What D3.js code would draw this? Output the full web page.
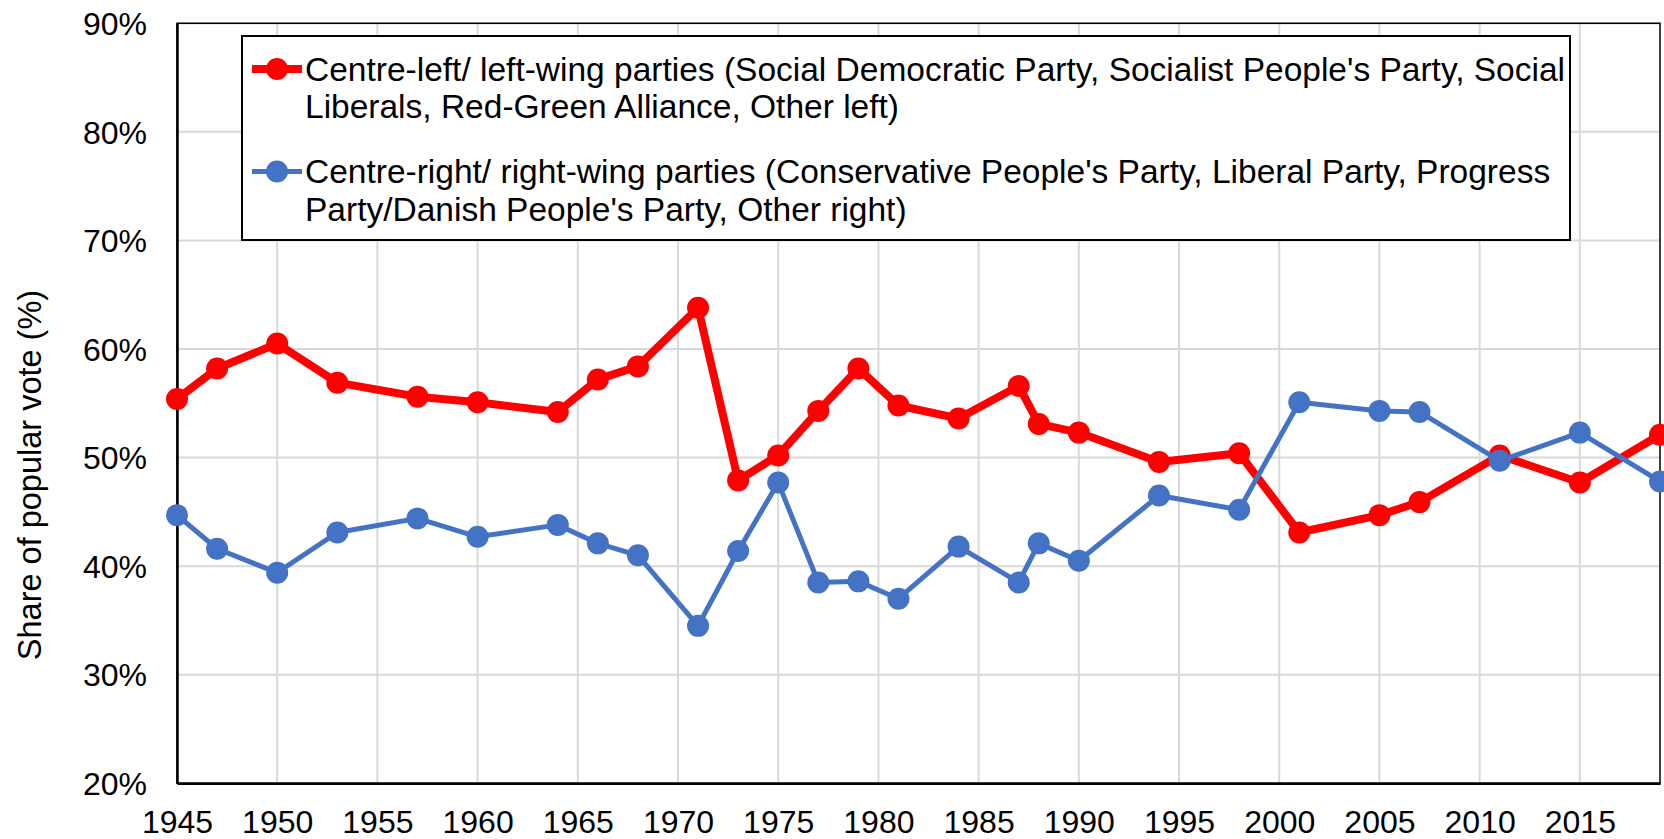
<!DOCTYPE html>
<html>
<head>
<meta charset="utf-8">
<script src="https://cdn.jsdelivr.net/npm/d3@7"></script>
<style>
  body { margin: 0; background: #fff; }
  text { font-family: "Liberation Sans", Arial, sans-serif; fill: #000; }
</style>
</head>
<body>
<div id="chart"></div>
<script>
let years = [1945, 1947, 1950, 1953, 1957, 1960, 1964, 1966, 1968, 1971, 1973, 1975, 1977,
  1979, 1981, 1984, 1987, 1988, 1990, 1994, 1998, 2001, 2005, 2007, 2011, 2015, 2019];

let leftVote = [55.4, 58.2, 60.5, 56.9, 55.6, 55.1, 54.2, 57.2, 58.4, 63.8, 47.9, 50.2, 54.3,
  58.2, 54.8, 53.6, 56.6, 53.1, 52.3, 49.6, 50.4, 43.1, 44.7, 45.9, 50.2, 47.7, 52.1];

let rightVote = [44.7, 41.6, 39.4, 43.1, 44.4, 42.7, 43.8, 42.1, 41.0, 34.5, 41.4, 47.7, 38.5,
  38.6, 37.0, 41.8, 38.5, 42.1, 40.5, 46.5, 45.2, 55.1, 54.3, 54.2, 49.7, 52.3, 47.8];

let xTicks = [1945, 1950, 1955, 1960, 1965, 1970, 1975, 1980, 1985, 1990, 1995, 2000, 2005, 2010, 2015];
let yTicks = [20, 30, 40, 50, 60, 70, 80, 90];

let seriesNames = [
  ["Centre-left/ left-wing parties (Social Democratic Party, Socialist People's Party, Social",
   "Liberals, Red-Green Alliance, Other left)"],
  ["Centre-right/ right-wing parties (Conservative People's Party, Liberal Party, Progress",
   "Party/Danish People's Party, Other right)"]
];
let yTitle = "Share of popular vote (%)";

let series = [
  { name: seriesNames[0], values: leftVote, color: "#ff0000", lineWidth: 8 },
  { name: seriesNames[1], values: rightVote, color: "#4472c4", lineWidth: 5 }
];

let width = 1664;
let height = 839;
let plot = { left: 177, top: 23.3, right: 1660, bottom: 783.3 };

let svg = d3
  .select("#chart")
  .append("svg")
  .attr("width", width)
  .attr("height", height);

let xScale = d3.scaleLinear().domain([1945, 2019]).range([plot.left, plot.right]);
let yScale = d3.scaleLinear().domain([20, 90]).range([plot.bottom, plot.top]);

// gridlines
svg
  .append("g")
  .selectAll("line")
  .data(yTicks)
  .enter()
  .append("line")
  .attr("x1", plot.left)
  .attr("x2", plot.right)
  .attr("y1", (d) => yScale(d))
  .attr("y2", (d) => yScale(d))
  .attr("stroke", "#d9d9d9")
  .attr("stroke-width", 2);

svg
  .append("g")
  .selectAll("line")
  .data(xTicks)
  .enter()
  .append("line")
  .attr("x1", (d) => xScale(d))
  .attr("x2", (d) => xScale(d))
  .attr("y1", plot.top)
  .attr("y2", plot.bottom)
  .attr("stroke", "#d9d9d9")
  .attr("stroke-width", 2);

// plot frame
svg
  .append("rect")
  .attr("x", plot.left)
  .attr("y", plot.top)
  .attr("width", plot.right - plot.left)
  .attr("height", plot.bottom - plot.top)
  .attr("fill", "none")
  .attr("stroke", "#000")
  .attr("stroke-width", 1.5);

// axes
let xAxis = d3.axisBottom(xScale).tickValues(xTicks).tickFormat(d3.format("d")).tickSize(0).tickPadding(27);
let yAxis = d3.axisLeft(yScale).tickValues(yTicks).tickFormat((d) => d + "%").tickSize(0).tickPadding(30);

let gx = svg
  .append("g")
  .attr("transform", "translate(0," + plot.bottom + ")")
  .call(xAxis);
let gy = svg
  .append("g")
  .attr("transform", "translate(" + plot.left + ",0)")
  .call(yAxis);

[gx, gy].forEach(function (g) {
  g.select(".domain").attr("stroke", "#000").attr("stroke-width", 2.5);
  g.selectAll("text")
    .style("font-family", '"Liberation Sans", Arial, sans-serif')
    .style("font-size", "32px")
    .attr("fill", "#000");
});
gy.selectAll("text").attr("dy", "0.35em");

// y axis title
svg
  .append("text")
  .attr("transform", "translate(41,475) rotate(-90)")
  .attr("text-anchor", "middle")
  .style("font-size", "32.5px")
  .text(yTitle);

// lines and markers
let line = d3
  .line()
  .x((d, i) => xScale(years[i]))
  .y((d) => yScale(d));

series.forEach(function (s) {
  svg
    .append("path")
    .datum(s.values)
    .attr("d", line)
    .attr("fill", "none")
    .attr("stroke", s.color)
    .attr("stroke-width", s.lineWidth)
    .attr("stroke-linejoin", "round");

  svg
    .append("g")
    .selectAll("circle")
    .data(s.values)
    .enter()
    .append("circle")
    .attr("cx", (d, i) => xScale(years[i]))
    .attr("cy", (d) => yScale(d))
    .attr("r", 11)
    .attr("fill", s.color);
});

// legend
let legend = svg.append("g").attr("id", "legend");

legend
  .append("rect")
  .attr("x", 242)
  .attr("y", 36)
  .attr("width", 1328)
  .attr("height", 204)
  .attr("fill", "#fff")
  .attr("stroke", "#000")
  .attr("stroke-width", 2);

let legendRows = legend
  .selectAll("g.row")
  .data(series)
  .enter()
  .append("g")
  .attr("class", "row")
  .attr("transform", (d, i) => "translate(0," + (69 + i * 102.5) + ")");

legendRows
  .append("line")
  .attr("x1", 252)
  .attr("x2", 302)
  .attr("stroke", (d) => d.color)
  .attr("stroke-width", (d) => d.lineWidth);

legendRows
  .append("circle")
  .attr("cx", 277)
  .attr("r", 11)
  .attr("fill", (d) => d.color);

legendRows
  .append("text")
  .attr("x", 305)
  .attr("y", 11.5)
  .style("font-size", "33.5px")
  .selectAll("tspan")
  .data((d) => d.name)
  .enter()
  .append("tspan")
  .attr("x", 305)
  .attr("dy", (d, i) => (i === 0 ? 0 : 37.7))
  .text((d) => d);
</script>
</body>
</html>
